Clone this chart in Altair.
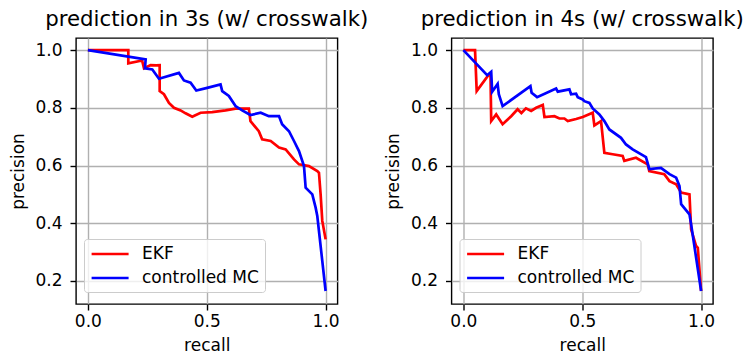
import altair as alt
import pandas as pd

# ---- data ----
models = ["EKF", "controlled MC"]

l_ekf_recall = [0.0, 0.170, 0.170, 0.228, 0.236, 0.264, 0.287, 0.302, 0.302, 0.320, 0.341, 0.362, 0.390,
                0.411, 0.439, 0.474, 0.523, 0.579, 0.621, 0.677, 0.684, 0.719, 0.733, 0.769, 0.804, 0.832,
                0.867, 0.888, 0.930, 0.965, 0.972, 0.979, 0.986, 1.0]
l_ekf_prec = [1.0, 1.0, 0.954, 0.964, 0.937, 0.948, 0.947, 0.948, 0.858, 0.847, 0.817, 0.800, 0.791,
              0.781, 0.769, 0.783, 0.785, 0.791, 0.797, 0.797, 0.754, 0.719, 0.691, 0.685, 0.662, 0.656,
              0.621, 0.604, 0.598, 0.581, 0.575, 0.500, 0.408, 0.344]

l_mc_recall = [0.0, 0.243, 0.240, 0.271, 0.299, 0.383, 0.404, 0.432, 0.456, 0.502, 0.558, 0.565, 0.593,
               0.621, 0.649, 0.684, 0.727, 0.761, 0.804, 0.817, 0.846, 0.867, 0.888, 0.909, 0.916, 0.944,
               0.958, 0.965, 1.0]
l_mc_prec = [1.0, 0.968, 0.937, 0.933, 0.901, 0.921, 0.895, 0.887, 0.860, 0.869, 0.881, 0.858, 0.841,
             0.806, 0.791, 0.775, 0.783, 0.771, 0.771, 0.743, 0.719, 0.685, 0.650, 0.598, 0.523, 0.500,
             0.454, 0.425, 0.165]

r_ekf_recall = [0.0, 0.049, 0.056, 0.102, 0.114, 0.117, 0.138, 0.165, 0.201, 0.228, 0.244, 0.263, 0.285,
                0.306, 0.334, 0.341, 0.383, 0.404, 0.425, 0.439, 0.474, 0.502, 0.544, 0.551, 0.579, 0.593,
                0.628, 0.670, 0.677, 0.726, 0.775, 0.782, 0.845, 0.867, 0.895, 0.916, 0.951, 0.958, 0.979,
                0.986, 1.0]
r_ekf_prec = [1.0, 1.0, 0.858, 0.910, 0.918, 0.754, 0.777, 0.743, 0.771, 0.795, 0.782, 0.798, 0.789,
              0.800, 0.810, 0.768, 0.771, 0.763, 0.763, 0.754, 0.761, 0.768, 0.783, 0.739, 0.754, 0.644,
              0.639, 0.633, 0.616, 0.627, 0.604, 0.581, 0.570, 0.546, 0.535, 0.506, 0.500, 0.379, 0.321,
              0.315, 0.165]

r_mc_recall = [0.0, 0.100, 0.117, 0.121, 0.144, 0.149, 0.165, 0.282, 0.287, 0.310, 0.390, 0.397, 0.446,
               0.453, 0.474, 0.481, 0.502, 0.509, 0.530, 0.544, 0.572, 0.593, 0.614, 0.663, 0.684, 0.712,
               0.768, 0.782, 0.831, 0.867, 0.895, 0.909, 0.916, 0.951, 0.958, 1.0]
r_mc_prec = [1.0, 0.913, 0.925, 0.856, 0.883, 0.847, 0.806, 0.875, 0.852, 0.837, 0.867, 0.856, 0.864,
             0.847, 0.849, 0.837, 0.829, 0.823, 0.817, 0.798, 0.777, 0.754, 0.725, 0.696, 0.673, 0.656,
             0.629, 0.588, 0.592, 0.570, 0.558, 0.529, 0.466, 0.431, 0.396, 0.165]

titles = ["prediction in 3s (w/ crosswalk)", "prediction in 4s (w/ crosswalk)"]
x_ticks = [0.0, 0.5, 1.0]
y_ticks = [0.2, 0.4, 0.6, 0.8, 1.0]
colors = ["#ff0000", "#0000ff"]

FONT = "DejaVu Sans"


def make_df(ekf_r, ekf_p, mc_r, mc_p):
    rows = []
    for i, (r, p) in enumerate(zip(ekf_r, ekf_p)):
        rows.append({"recall": r, "precision": p, "model": models[0], "idx": i})
    for i, (r, p) in enumerate(zip(mc_r, mc_p)):
        rows.append({"recall": r, "precision": p, "model": models[1], "idx": i})
    return pd.DataFrame(rows)


def panel(df, title):
    return alt.Chart(df).mark_line(strokeWidth=2.7, clip=True).encode(
        x=alt.X("recall:Q",
                scale=alt.Scale(domain=[-0.05, 1.05], nice=False, zero=False),
                axis=alt.Axis(values=x_ticks, format=".1f", title="recall",
                              labelPadding=3, titlePadding=8)),
        y=alt.Y("precision:Q",
                scale=alt.Scale(domain=[0.12, 1.042], nice=False, zero=False),
                axis=alt.Axis(values=y_ticks, format=".1f", title="precision",
                              labelPadding=8, titlePadding=8, minExtent=41, maxExtent=41)),
        color=alt.Color("model:N",
                        scale=alt.Scale(domain=models, range=colors),
                        legend=alt.Legend(title=None, orient="none", legendX=8, legendY=201,
                                          symbolType="M-1,0H4", symbolSize=219,
                                          symbolStrokeWidth=2.7, labelFontSize=17,
                                          labelFont=FONT, labelColor="black", labelOffset=34,
                                          rowPadding=7, padding=6,
                                          fillColor="rgba(255,255,255,0.8)",
                                          strokeColor="#cccccc", cornerRadius=3)),
        order="idx:Q",
    ).properties(
        width=261.5, height=266,
        title=alt.TitleParams(text=title, fontSize=21.3, font=FONT, fontWeight="normal",
                              color="black", anchor="middle", offset=8),
    )


left = panel(make_df(l_ekf_recall, l_ekf_prec, l_mc_recall, l_mc_prec), titles[0])
right = panel(make_df(r_ekf_recall, r_ekf_prec, r_mc_recall, r_mc_prec), titles[1])

chart = alt.hconcat(left, right, spacing=113.5, bounds="flush").resolve_scale(
    color="independent"
).resolve_legend(color="independent").properties(
    padding={"left": 8, "top": 8, "right": 2, "bottom": 4},
    background="white",
).configure_view(
    stroke="black", strokeWidth=1.4
).configure_axis(
    domain=False, grid=True, gridColor="#b0b0b0", gridWidth=1.4,
    tickColor="black", tickWidth=1.4, tickSize=6,
    labelFont=FONT, titleFont=FONT, labelFontSize=17, titleFontSize=17,
    labelColor="black", titleColor="black", titleFontWeight="normal",
)

chart.save("out.html", embed_options={"renderer": "svg", "actions": False})
